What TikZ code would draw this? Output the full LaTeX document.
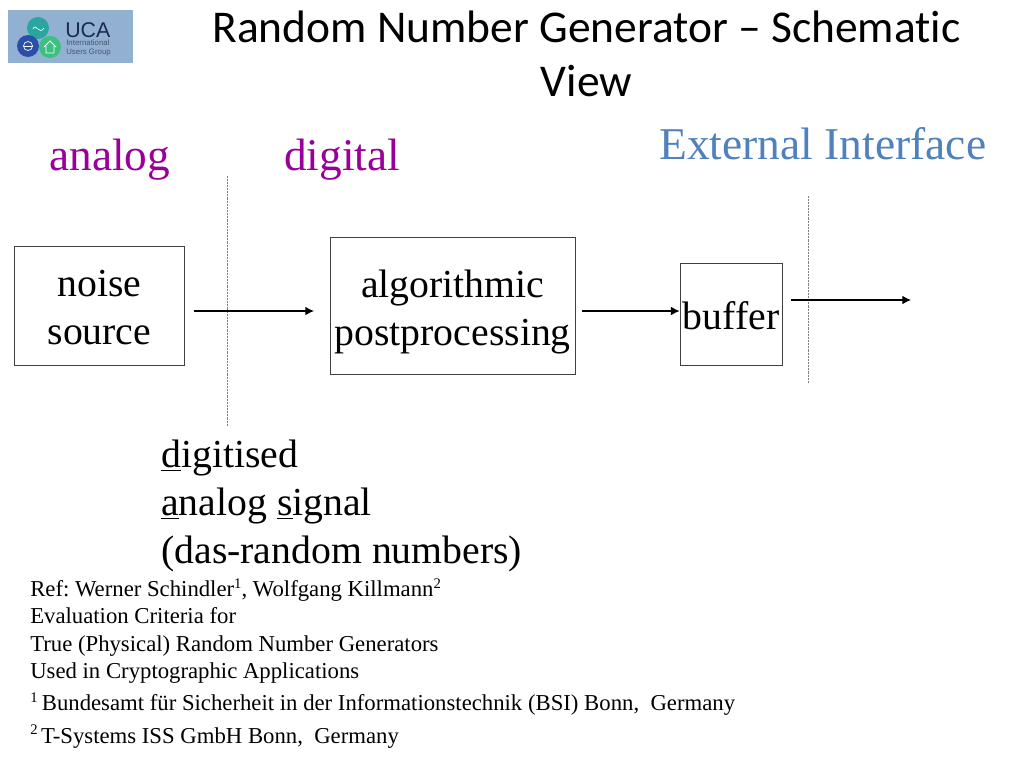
\documentclass[tikz,border=0pt]{standalone}
\usepackage{fontspec}
\setmainfont{Liberation Serif}
\newfontfamily\titlefont[Ligatures=CommonOff]{Carlito}
\newfontfamily\logofont{Liberation Sans}
\usetikzlibrary{arrows.meta}
\frenchspacing
\definecolor{zonecol}{HTML}{990099}
\definecolor{extcol}{HTML}{4F81BD}
\definecolor{edgecol}{HTML}{404040}
\definecolor{logobg}{HTML}{92B1D2}
\definecolor{logoteal}{HTML}{2AA5A0}
\definecolor{logoblue}{HTML}{2B4FA8}
\definecolor{logogreen}{HTML}{3CC080}
\definecolor{logoink}{HTML}{1A2A50}
\newcommand{\refmark}[1]{\raisebox{6.2pt}[0pt][0pt]{\fontsize{11}{11}\selectfont #1}}
\tikzset{
 x=0.75pt,y=-0.75pt,
 blockbox/.style={draw=edgecol,line width=0.7pt,inner sep=0pt,anchor=north west},
 blocktext/.style={inner sep=0pt,align=center,font=\fontsize{29.8}{36}\selectfont},
 flow/.style={draw=black,line width=0.85pt,-{Latex[length=6.5pt,width=6.5pt]}},
 boundary/.style={draw=gray,line width=0.5pt,dash pattern=on 0.6pt off 0.5pt},
 zonelabel/.style={anchor=base west,inner sep=0pt,text=zonecol,font=\fontsize{34}{40}\selectfont},
 bodytext/.style={anchor=north west,inner sep=0pt,align=left},
}
\begin{document}
\begin{tikzpicture}
\useasboundingbox (0,0) rectangle (1024,768);
\fill[white] (0,0) rectangle (1024,768);
% logo
\fill[fill=logobg] (8,10) rectangle (133,63);
\node[circle,fill=logoteal,minimum size=16.5pt,inner sep=0pt] (logoa) at (38,28) {};
\node[circle,fill=logoblue,minimum size=16.5pt,inner sep=0pt] (logob) at (28,46) {};
\node[circle,fill=logogreen,minimum size=16.5pt,inner sep=0pt] (logoc) at (50,47) {};
\draw[white,line width=0.5pt] (33,29) .. controls (36,22) and (39,36) .. (44,28);
\draw[white,line width=0.5pt] (28,46) circle (4.5);
\draw[white,line width=0.5pt] (23.5,46) -- (32.5,46);
\draw[white,line width=0.6pt] (44,47) -- (50,41) -- (56,47) (46,46) -- (46,53) -- (54,53) -- (54,46);
\node[anchor=base west,inner sep=0pt,text=logoink,font=\logofont\fontsize{16}{16}\selectfont] (logot) at (65,37) {UCA};
\node[anchor=north west,inner sep=0pt,align=left,text=logoink!80,font=\logofont\fontsize{5.9}{6.2}\selectfont] (logos) at (66,40) {International\\Users Group};
% title
\node[anchor=center,inner sep=0pt,align=center,font=\titlefont\fontsize{34.1}{40.5}\selectfont] (title) at (586.5,53.5) {Random Number Generator – Schematic\\View};
% zones
\node[zonelabel] (analog) at (49,170) {analog};
\node[zonelabel] (digital) at (284,170) {digital};
\node[anchor=base west,inner sep=0pt,text=extcol,font=\fontsize{34.1}{42}\selectfont] (external) at (659,159) {External Interface};
% boxes
\node[blockbox,minimum width=128pt,minimum height=89.6pt,label={[blocktext,yshift=-1.5pt]center:{noise\\source}}] (noise) at (13.6,245.6) {};
\node[blockbox,minimum width=184pt,minimum height=103pt,label={[blocktext,yshift=-4.5pt]center:{algorithmic\\postprocessing}}] (algo) at (329.6,236.6) {};
\node[blockbox,minimum width=76.5pt,minimum height=76.5pt,label={[blocktext,yshift=-1.5pt]center:{buffer}}] (buffer) at (679.6,262.6) {};
% boundaries
\coordinate (b1t) at (227,176); \coordinate (b1b) at (227,426);
\coordinate (b2t) at (808,196); \coordinate (b2b) at (808,383);
\draw[boundary] (b1t) -- (b1b);
\draw[boundary] (b2t) -- (b2b);
% arrows
\coordinate (a1s) at (194,311); \coordinate (a1e) at (314,311);
\coordinate (a2s) at (582,311); 
\coordinate (a3s) at (791,300); \coordinate (a3e) at (911,300);
\draw[flow] (a1s) -- (a1e);
\draw[flow] (a2s) -- (a2s -| buffer.west);
\draw[flow] (a3s) -- (a3e);
% labels
\node[bodytext,font=\fontsize{29.8}{36}\selectfont] (das) at (161,440) {\underline{d}igitised\\\underline{a}nalog \underline{s}ignal\\(das-random numbers)};
\node[bodytext,font=\fontsize{17.05}{20.6}\selectfont] (ref) at (30,580) {Ref: Werner Schindler\refmark{1}, Wolfgang Killmann\refmark{2}\\Evaluation Criteria for\\True (Physical) Random Number Generators\\Used in Cryptographic Applications};
\node[bodytext,font=\fontsize{17.05}{20}\selectfont] (bsi) at (30,694) {\refmark{1}\kern3.2pt Bundesamt für Sicherheit in der Informationstechnik (BSI) Bonn,\ \ Germany};
\node[bodytext,font=\fontsize{17.05}{20}\selectfont] (tsys) at (30,727) {\refmark{2}\kern2.6pt T-Systems ISS GmbH Bonn,\ \ Germany};
\end{tikzpicture}
\end{document}
